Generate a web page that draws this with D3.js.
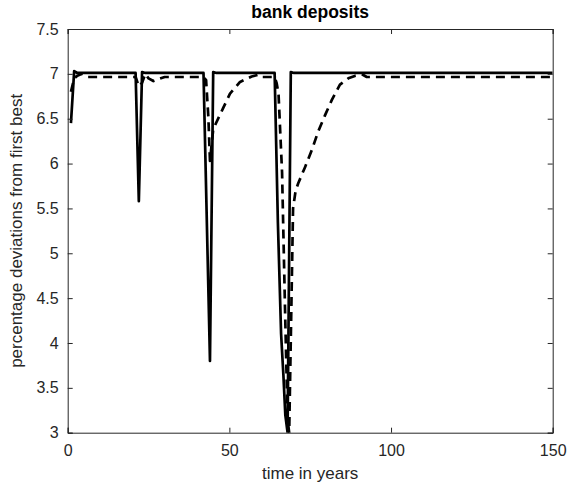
<!DOCTYPE html>
<html>
<head>
<meta charset="utf-8">
<script src="https://cdn.jsdelivr.net/npm/d3@7"></script>
<style>
  html, body { margin: 0; padding: 0; background: #fff; }
  svg { display: block; }
  text { font-family: "Liberation Sans", Arial, Helvetica, sans-serif; }
</style>
</head>
<body>
<svg id="chart" width="568" height="487"></svg>
<script>
// ---- data ----
const title = "bank deposits";
const xLabel = "time in years";
const yLabel = "percentage deviations from first best";
const xTicks = [0, 50, 100, 150];
const yTicks = [3, 3.5, 4, 4.5, 5, 5.5, 6, 6.5, 7, 7.5];

// solid series
const solidT = [1, 2, 3, 21, 22, 23, 24, 42, 43, 44, 45, 46, 64, 65, 66, 66.7, 67.3, 68, 69, 70, 150];
const solidV = [6.45, 7.03, 7.01, 7.01, 5.58, 7.02, 7.01, 7.01, 5.4, 3.8, 7.02, 7.01, 7.01, 5.35, 4.1, 3.65, 3.2, 3.0, 7.02, 7.01, 7.01];

// dashed series
const dashT = [1, 2, 3, 4.4, 6, 21, 22, 23, 24, 25, 26.5, 28, 30, 42, 42.8, 43.5, 44, 45, 46, 48.1, 50.2, 53.3, 56.9, 59, 60,
               64, 64.6, 65.2, 66.3, 67.2, 68, 68.5, 69.7, 70.5, 71.3, 73.4, 75.5, 77.5, 79.6, 81.7, 84.2, 86.8, 89, 91, 92.5, 150];
const dashV = [6.8, 6.95, 6.98, 7.0, 6.965, 6.965, 6.86, 6.9, 7.0, 6.95, 6.92, 6.94, 6.965, 6.965, 6.93, 6.52, 6.03, 6.38, 6.46, 6.62, 6.78, 6.91, 6.97, 6.99, 6.965,
               6.965, 6.9, 6.78, 5.9, 4.4, 3.15, 3.0, 5.5, 5.7, 5.78, 5.96, 6.15, 6.36, 6.54, 6.71, 6.88, 6.95, 6.98, 6.995, 6.965, 6.965];

// ---- layout ----
const W = 568, H = 487;
const m = { left: 67.7, right: W - 552.7, top: 29, bottom: H - 432.7 };
const svg = d3.select("#chart");
const x = d3.scaleLinear().domain([0, 150]).range([m.left, W - m.right]);
const y = d3.scaleLinear().domain([3, 7.5]).range([H - m.bottom, m.top]);

const axisColor = "#262626";
const tickLen = 5;

svg.append("clipPath").attr("id", "clip").append("rect")
  .attr("x", m.left).attr("y", m.top)
  .attr("width", x(150) - x(0)).attr("height", y(3) - y(7.5));

const line = d3.line().x(d => x(d[0])).y(d => y(d[1]));

const g = svg.append("g").attr("clip-path", "url(#clip)");
g.append("path")
  .datum(dashT.map((t, i) => [t, dashV[i]]))
  .attr("d", line)
  .attr("fill", "none").attr("stroke", "#000").attr("stroke-width", 2.7)
  .attr("stroke-dasharray", "9,6").attr("stroke-linejoin", "round");
g.append("path")
  .datum(solidT.map((t, i) => [t, solidV[i]]))
  .attr("d", line)
  .attr("fill", "none").attr("stroke", "#000").attr("stroke-width", 2.7)
  .attr("stroke-linejoin", "round");

// axes (inward ticks, box)
const axB = svg.append("g").attr("transform", `translate(0,${y(3)})`)
  .call(d3.axisBottom(x).tickValues(xTicks).tickSize(-tickLen).tickPadding(12).tickFormat(d3.format("d")));
const axT = svg.append("g").attr("transform", `translate(0,${y(7.5)})`)
  .call(d3.axisTop(x).tickValues(xTicks).tickSize(-tickLen).tickFormat(""));
const axL = svg.append("g").attr("transform", `translate(${x(0)},0)`)
  .call(d3.axisLeft(y).tickValues(yTicks).tickSize(-tickLen).tickPadding(9).tickFormat(d => d3.format("")(d)));
const axR = svg.append("g").attr("transform", `translate(${x(150)},0)`)
  .call(d3.axisRight(y).tickValues(yTicks).tickSize(-tickLen).tickFormat(""));

[axB, axT, axL, axR].forEach(a => {
  a.select(".domain").attr("stroke", axisColor).attr("stroke-width", 1);
  a.selectAll(".tick line").attr("stroke", axisColor).attr("stroke-width", 1);
  a.selectAll(".tick text").attr("fill", axisColor).style("font-size", "16px");
});

// title & labels
svg.append("text").attr("x", (x(0) + x(150)) / 2).attr("y", 18)
  .attr("text-anchor", "middle").style("font-size", "17.5px").style("font-weight", "bold")
  .attr("fill", "#000").text(title);
svg.append("text").attr("x", (x(0) + x(150)) / 2).attr("y", 479)
  .attr("text-anchor", "middle").style("font-size", "17px").attr("fill", axisColor).text(xLabel);
svg.append("text")
  .attr("transform", `translate(22,${(y(3) + y(7.5)) / 2}) rotate(-90)`)
  .attr("text-anchor", "middle").style("font-size", "17px").attr("fill", axisColor).text(yLabel);
</script>
</body>
</html>
